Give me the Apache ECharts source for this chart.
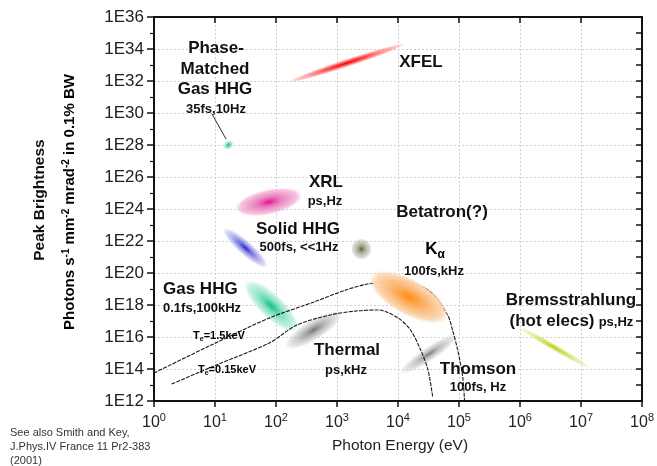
<!DOCTYPE html>
<html><head><meta charset="utf-8">
<script src="https://cdn.jsdelivr.net/npm/echarts@6/dist/echarts.min.js"></script>
<style>html,body{margin:0;padding:0;background:#fff}#c{width:657px;height:466px}</style>
</head><body><div id="c"></div>
<script>
// ---- data ----
// Photon energy axis: 10^0 .. 10^8 eV ; brightness axis shown as exponents 12..36
const xMin = 1, xMax = 1e8;
const yExpMin = 12, yExpMax = 36;

// Thermal spectra curves: photon energy (eV) and log10(peak brightness)
const hotName = 'Te=1.5keV';
const hotE    = [1, 8.7, 78, 420, 1400, 3200, 1.0e4, 3.1e4, 6.5e4, 7.8e4, 9.5e4, 1.15e5, 1.23e5];
const hotLogB = [13.75, 15.5, 17.19, 18.19, 18.94, 19.31, 19.5, 18.94, 17.38, 16.44, 15.19, 13.5, 12.0];
const coldName = 'Te=0.15keV';
const coldE    = [1.95, 10.5, 78, 220, 780, 2100, 4700, 1.0e4, 1.6e4, 2.35e4, 3.1e4, 3.7e4];
const coldLogB = [13.06, 14.25, 15.63, 16.75, 17.38, 17.63, 17.69, 17.19, 16.44, 15.19, 13.94, 12.25];

// Sources: end points of each region's long axis (energy eV, log10 brightness)
const sourceNames = ['XFEL', 'Phase-Matched Gas HHG', 'XRL', 'Solid HHG', 'Gas HHG', 'Betatron(?)', 'Thermal', 'Thomson', 'Kα', 'Bremsstrahlung'];
const sourceE1    = [162,   14.1, 22,   14,    32,    1700, 145,   1.1e4, 3500,  9.5e5];
const sourceLogB1 = [31.94, 27.8, 24.0, 22.75, 19.44, 21.5, 15.38, 13.75, 19.81, 16.63];
const sourceE2    = [1.3e4, 19.5, 263,  71,    220,   3700, 1170,  9.5e4, 6.5e4, 1.4e7];
const sourceLogB2 = [34.31, 28.2, 24.88, 20.38, 16.44, 21.5, 17.5, 16.13, 17.19, 14.06];

// ---- styles ----
const blobStyle = {
  'XFEL': {w: 4, c: ['#ff0000', 'rgba(255,40,40,0.85)', 'rgba(255,150,150,0.55)']},
  'Phase-Matched Gas HHG': {w: 4, c: ['#20c890', 'rgba(60,210,160,0.8)', 'rgba(150,230,200,0.5)']},
  'XRL': {w: 12.5, c: ['#e0109a', 'rgba(230,90,170,0.8)', 'rgba(240,170,210,0.7)']},
  'Solid HHG': {w: 7, c: ['#2828c8', 'rgba(90,90,215,0.75)', 'rgba(190,190,240,0.6)']},
  'Gas HHG': {w: 12, c: ['#10c080', 'rgba(70,210,160,0.75)', 'rgba(170,235,210,0.6)']},
  'Betatron(?)': {w: 10.5, c: ['#5a6a30', 'rgba(140,150,120,0.8)', 'rgba(200,200,200,0.6)']},
  'Thermal': {w: 10, c: ['#777777', 'rgba(150,150,150,0.75)', 'rgba(215,215,215,0.6)']},
  'Thomson': {w: 7, c: ['#7a7a7a', 'rgba(160,160,160,0.7)', 'rgba(220,220,220,0.6)']},
  'Kα': {w: 18, c: ['#ff8c10', 'rgba(252,170,90,0.95)', 'rgba(252,215,180,0.95)']},
  'Bremsstrahlung': {w: 3.5, c: ['#b4c800', 'rgba(200,215,60,0.8)', 'rgba(225,235,150,0.5)']}
};
const FONT = '"Liberation Sans", Arial, sans-serif';

function blobData(filterFn) {
  const out = [];
  sourceNames.forEach((n, i) => {
    if (filterFn(n)) out.push({name: n, value: [sourceE1[i], sourceLogB1[i], sourceE2[i], sourceLogB2[i], i]});
  });
  return out;
}
function renderBlob(params, api) {
  const name = sourceNames[api.value(4)];
  const st = blobStyle[name];
  const p1 = api.coord([api.value(0), api.value(1)]);
  const p2 = api.coord([api.value(2), api.value(3)]);
  const cx = (p1[0] + p2[0]) / 2, cy = (p1[1] + p2[1]) / 2;
  const dx = p2[0] - p1[0], dy = p2[1] - p1[1];
  const a = Math.max(Math.sqrt(dx * dx + dy * dy) / 2, 1);
  const ang = Math.atan2(dy, dx);
  const c = st.c;
  return {
    type: 'circle', x: cx, y: cy, rotation: -ang, scaleX: 1, scaleY: st.w / a,
    shape: {cx: 0, cy: 0, r: a},
    style: {fill: {type: 'radial', x: 0.5, y: 0.5, r: 0.5, colorStops: [
      {offset: 0, color: c[0]}, {offset: 0.35, color: c[1]}, {offset: 0.85, color: c[2]},
      {offset: 1, color: c[2].replace(/[\d.]+\)$/, '0.05)')}]}}
  };
}

const chart = echarts.init(document.getElementById('c'), null, {renderer: 'canvas'});

function txt(text, x, y, size, opts) {
  opts = opts || {};
  return {type: 'text', x: x, y: y, z: 50, silent: true, rotation: opts.rot || 0,
    style: Object.assign({text: text, fill: '#111', font: (opts.normal ? '' : 'bold ') + size + 'px ' + FONT,
      align: opts.align || 'center', verticalAlign: 'middle'}, opts.style || {})};
}
const supRich = {
  n: {fontSize: 15, fontWeight: 'bold', fontFamily: FONT, color: '#111', verticalAlign: 'bottom', lineHeight: 19},
  s: {fontSize: 10, fontWeight: 'bold', fontFamily: FONT, color: '#111', verticalAlign: 'bottom', lineHeight: 19, padding: [0, 0, 6, 0]}
};
const subRich = {
  t: {fontSize: 11, fontWeight: 'bold', fontFamily: FONT, color: '#222', verticalAlign: 'bottom', lineHeight: 14, padding: [0, 0, 2, 0]},
  e: {fontSize: 7, fontWeight: 'bold', fontFamily: FONT, color: '#222', verticalAlign: 'bottom', lineHeight: 14}
};
const curveStyle = {color: '#1a1a1a', width: 1.1, type: [4, 1.2]};

const option = {
  animation: false,
  backgroundColor: '#fff',
  grid: {left: 154, right: 11, top: 17, bottom: 65, containLabel: false},
  xAxis: [{
    type: 'log', logBase: 10, min: xMin, max: xMax, position: 'bottom',
    axisLine: {show: true, onZero: false, lineStyle: {color: '#111', width: 2}},
    axisTick: {show: true, inside: false, length: 6, lineStyle: {color: '#111', width: 1.5}},
    minorTick: {show: false},
    splitLine: {show: true, lineStyle: {color: '#cfcfcf', type: [2, 2], width: 1}},
    axisLabel: {margin: 10, formatter: v => '{b|10}{s|' + Math.round(Math.log10(v)) + '}',
      rich: {
        b: {fontSize: 16, fontFamily: FONT, color: '#222', verticalAlign: 'bottom', lineHeight: 20},
        s: {fontSize: 11, fontFamily: FONT, color: '#222', verticalAlign: 'bottom', lineHeight: 20, padding: [0, 0, 8, 0]}
      }}
  }, {
    type: 'log', logBase: 10, min: xMin, max: xMax, position: 'top',
    axisLine: {show: true, onZero: false, lineStyle: {color: '#111', width: 2}},
    axisTick: {show: true, inside: true, length: 6, lineStyle: {color: '#111', width: 1.5}},
    axisLabel: {show: false}, splitLine: {show: false}
  }],
  yAxis: [{
    type: 'value', min: yExpMin, max: yExpMax, interval: 2, position: 'left',
    axisLine: {show: true, onZero: false, lineStyle: {color: '#111', width: 2}},
    axisTick: {show: true, inside: false, length: 7, lineStyle: {color: '#111', width: 1.5}},
    minorTick: {show: true, splitNumber: 2, length: 4, lineStyle: {color: '#111', width: 1.2}},
    splitLine: {show: true, lineStyle: {color: '#cfcfcf', type: [2, 2], width: 1}},
    axisLabel: {margin: 10, fontSize: 17, fontFamily: FONT, color: '#222', formatter: v => '1E' + v}
  }, {
    type: 'value', min: yExpMin, max: yExpMax, interval: 1, position: 'right',
    axisLine: {show: true, onZero: false, lineStyle: {color: '#111', width: 2}},
    axisTick: {show: true, inside: true, length: 6, lineStyle: {color: '#111', width: 1.5}},
    axisLabel: {show: false}, splitLine: {show: false}
  }],
  series: [
    {type: 'custom', name: 'sources', renderItem: renderBlob, xAxisIndex: 0, yAxisIndex: 0, z: 2,
      encode: {x: [0, 2], y: [1, 3]}, data: blobData(n => n !== 'Kα'), silent: true},
    {type: 'line', name: hotName, data: hotE.map((e, i) => [e, hotLogB[i]]), smooth: 0.3, showSymbol: false, z: 3,
      lineStyle: curveStyle, silent: true},
    {type: 'line', name: coldName, data: coldE.map((e, i) => [e, coldLogB[i]]), smooth: 0.3, showSymbol: false, z: 3,
      lineStyle: curveStyle, silent: true},
    {type: 'custom', name: 'Kα', renderItem: renderBlob, xAxisIndex: 0, yAxisIndex: 0, z: 4,
      encode: {x: [0, 2], y: [1, 3]}, data: blobData(n => n === 'Kα'), silent: true}
  ],
  graphic: [
    // y-axis title
    txt('Peak Brightness', 40, 200, 15.5, {rot: Math.PI / 2}),
    {type: 'text', x: 68, y: 202, rotation: Math.PI / 2, silent: true, z: 50,
      style: {text: '{n|Photons s}{s|-1}{n| mm}{s|-2}{n| mrad}{s|-2}{n| in 0.1% BW}', rich: supRich,
        align: 'center', verticalAlign: 'middle'}},
    txt('Photon Energy (eV)', 400, 446, 15.5, {normal: true, style: {fill: '#222'}}),
    // reference note
    txt('See also Smith and Key,', 10, 433, 11, {normal: true, align: 'left', style: {fill: '#333'}}),
    txt('J.Phys.IV France 11 Pr2-383', 10, 447, 11, {normal: true, align: 'left', style: {fill: '#333'}}),
    txt('(2001)', 10, 461, 11, {normal: true, align: 'left', style: {fill: '#333'}}),
    // source labels
    txt('Phase-', 216, 48, 17), txt('Matched', 215, 69, 17), txt('Gas HHG', 215, 89, 17),
    txt('35fs,10Hz', 216, 109, 13),
    {type: 'line', silent: true, z: 50, shape: {x1: 212, y1: 114, x2: 226, y2: 139}, style: {stroke: '#333', lineWidth: 1}},
    txt('XFEL', 421, 62, 17),
    txt('XRL', 326, 182, 17), txt('ps,Hz', 325, 201, 13),
    txt('Betatron(?)', 442, 212, 17),
    txt('Solid HHG', 298, 229, 17), txt('500fs, <<1Hz', 299, 247, 13),
    {type: 'text', x: 435, y: 251, silent: true, z: 50,
      style: {text: '{k|K}{a|α}', align: 'center', verticalAlign: 'middle', rich: {
        k: {fontSize: 17, fontWeight: 'bold', fontFamily: FONT, color: '#111', verticalAlign: 'bottom', lineHeight: 20, padding: [0, 0, 3, 0]},
        a: {fontSize: 12, fontWeight: 'bold', fontFamily: FONT, color: '#111', verticalAlign: 'bottom', lineHeight: 20}}}},
    txt('100fs,kHz', 434, 271, 13),
    txt('Gas HHG', 163, 289, 17, {align: 'left'}), txt('0.1fs,100kHz', 163, 308, 13, {align: 'left'}),
    txt('Bremsstrahlung', 571, 300, 17),
    txt('(hot elecs)', 552, 321, 17), txt('ps,Hz', 616, 322, 13),
    txt('Thermal', 347, 350, 17), txt('ps,kHz', 346, 370, 13),
    txt('Thomson', 478, 369, 17), txt('100fs, Hz', 478, 387, 13),
    {type: 'text', x: 219, y: 336, silent: true, z: 50,
      style: {text: '{t|T}{e|e}{t|=1.5keV}', align: 'center', verticalAlign: 'middle', rich: subRich}},
    {type: 'text', x: 227, y: 370, silent: true, z: 50,
      style: {text: '{t|T}{e|e}{t|=0.15keV}', align: 'center', verticalAlign: 'middle', rich: subRich}}
  ]
};
chart.setOption(option);
</script></body></html>
